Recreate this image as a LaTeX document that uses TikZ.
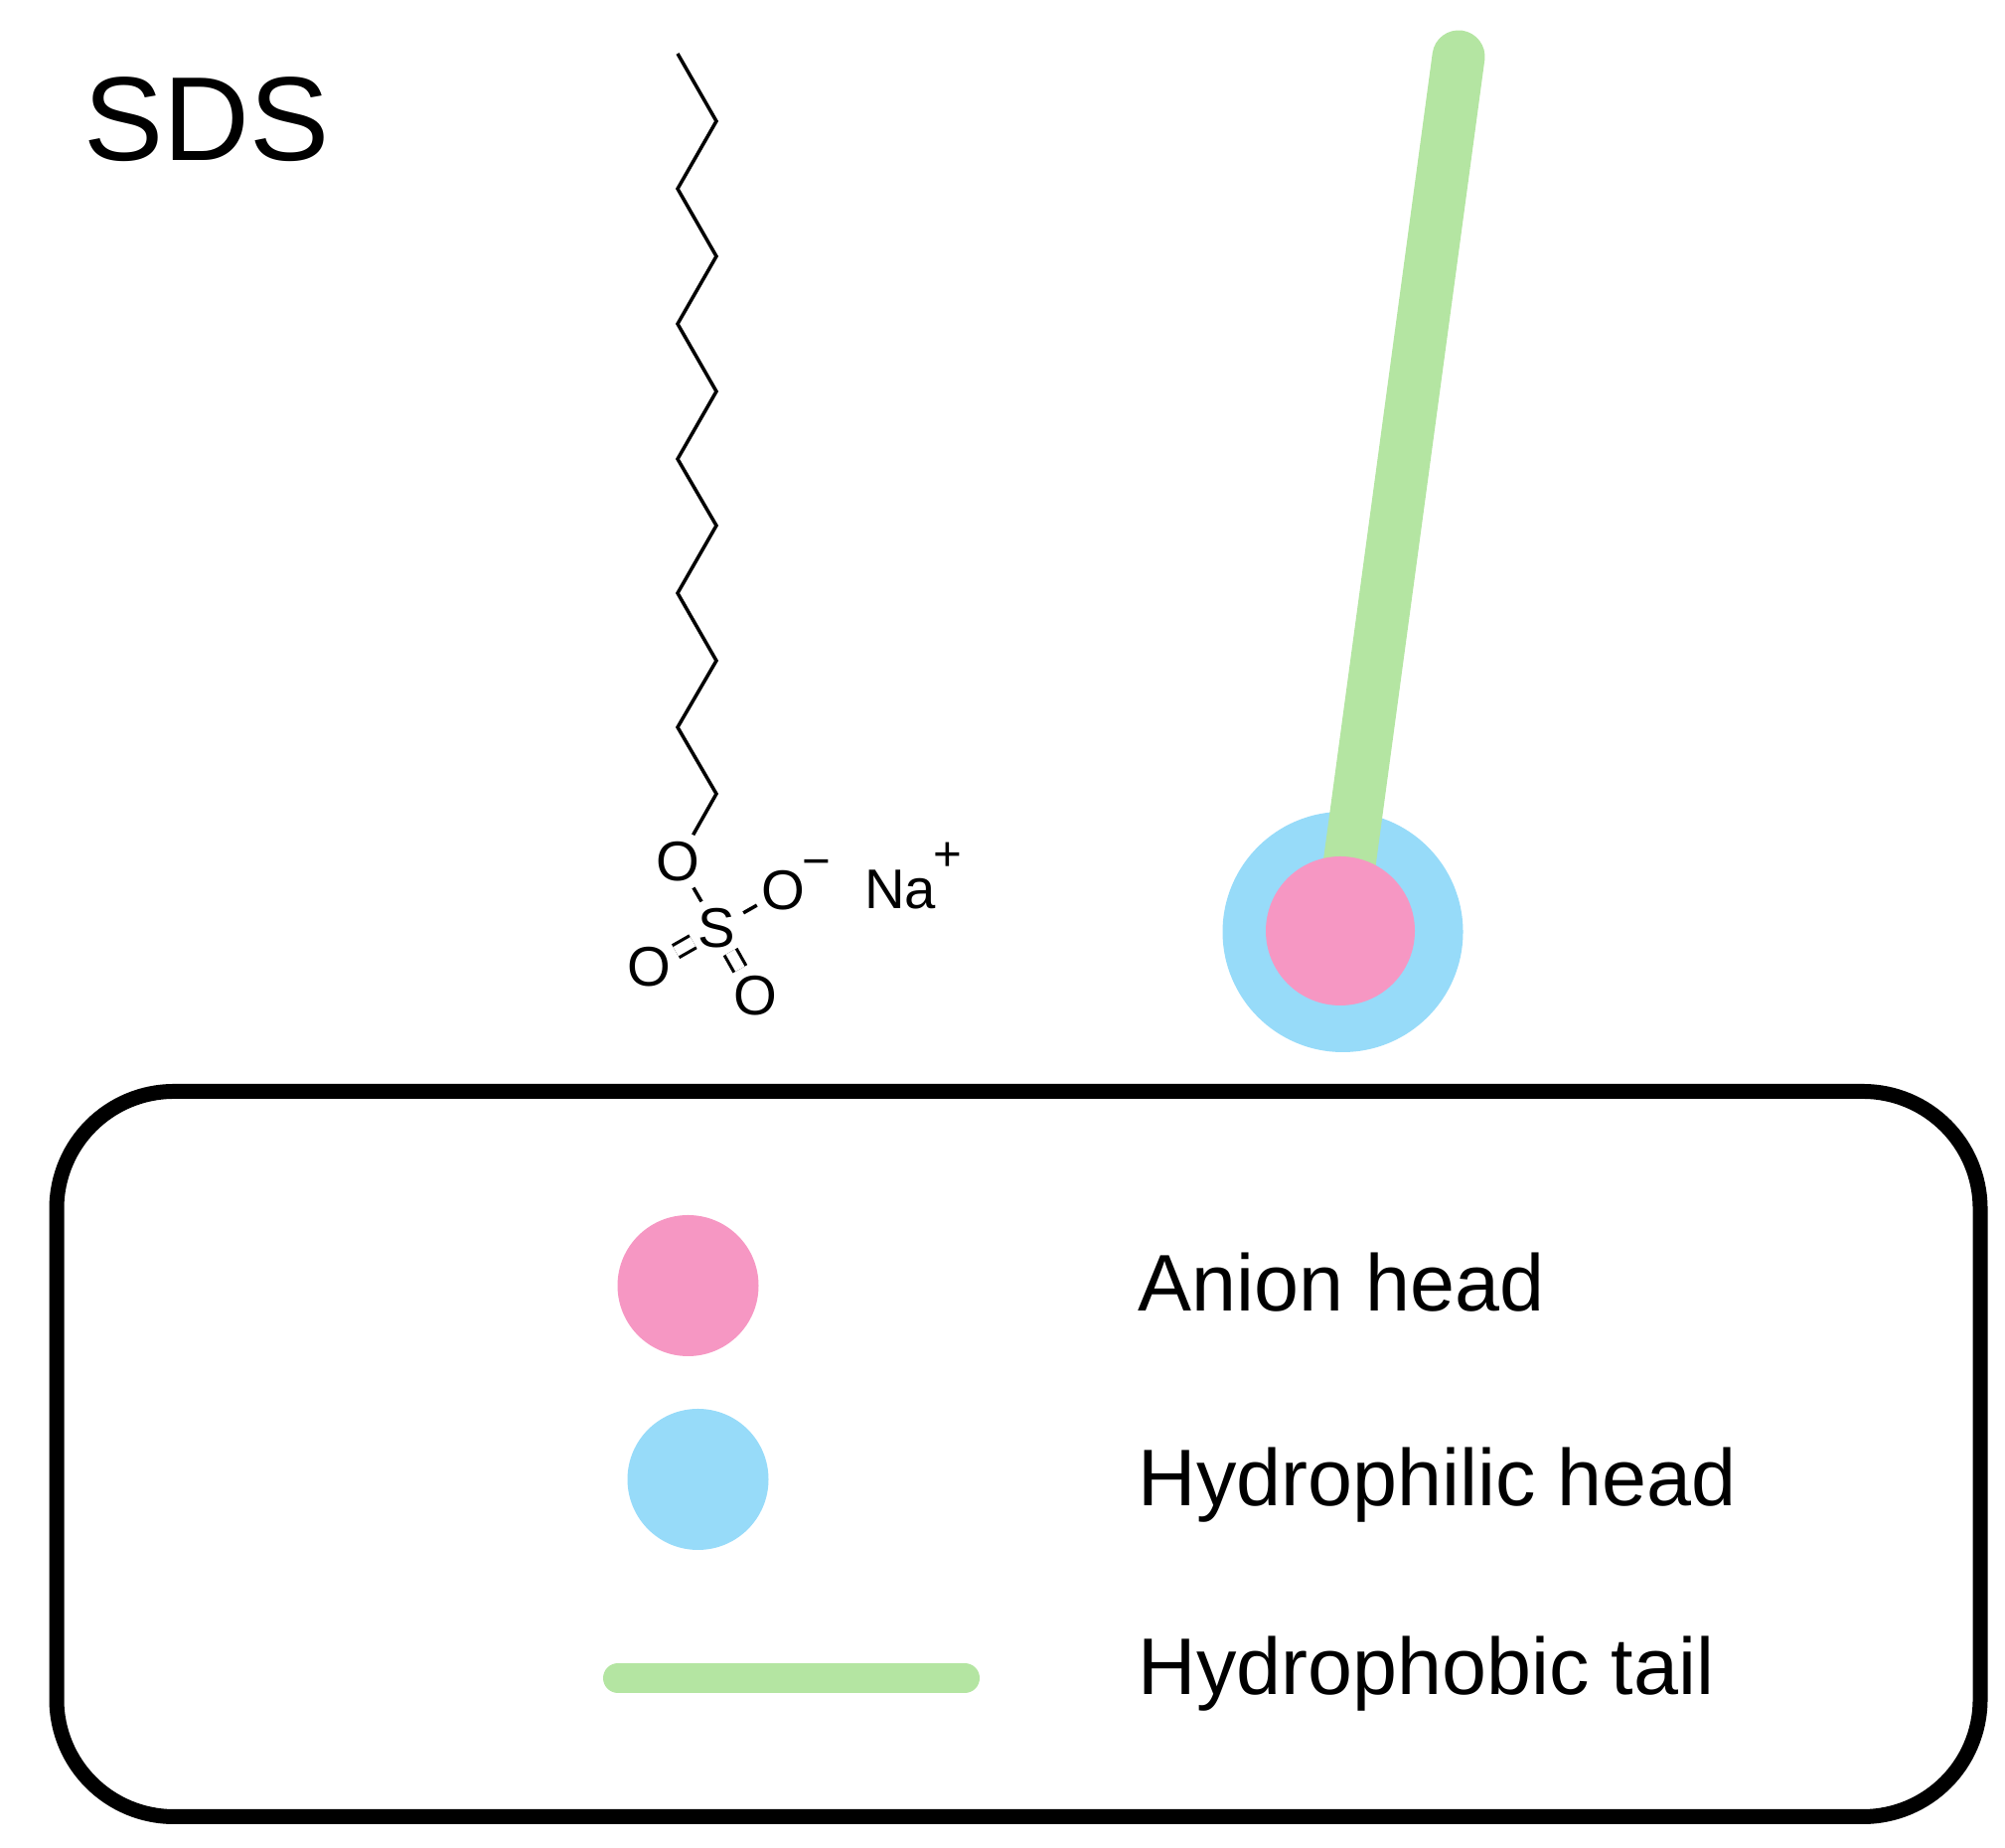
\documentclass[tikz,border=0pt]{standalone}
\usepackage{fontspec}
\setmainfont{Liberation Sans}
\definecolor{anionpink}{HTML}{F697C3}
\definecolor{headblue}{HTML}{97DBF9}
\definecolor{tailgreen}{HTML}{B4E5A2}
\begin{document}
\begin{tikzpicture}[
      disc/.style={circle, inner sep=0pt, minimum size=1.42cm},
      pinkdisc/.style={disc, fill=anionpink},
      bluedisc/.style={disc, fill=headblue},
      tailbar/.style={draw=tailgreen, line cap=round},
      bond/.style={line width=1pt, line join=miter},
      dbond/.style={line width=0.9pt, double, double distance=3pt, shorten <=-0.03cm},
      atom/.style={circle, inner sep=0pt, minimum size=0.6cm, font=\fontsize{16}{18}\selectfont},
      charge/.style={inner sep=0pt, font=\fontsize{14}{16}\selectfont},
      lbl/.style={anchor=base west, inner sep=0pt, font=\fontsize{23}{28}\selectfont},
    ]
    \useasboundingbox (0,0) rectangle (20.18,18.6);

    % Title
    \node[lbl, font=\fontsize{34.2}{40}\selectfont] (title) at (0.84,16.98) {SDS};

    % Carbon chain
    \coordinate (c1) at (6.82,18.06);
    \coordinate (c2) at (7.21,17.38);
    \coordinate (c3) at (6.82,16.70);
    \coordinate (c4) at (7.21,16.02);
    \coordinate (c5) at (6.82,15.34);
    \coordinate (c6) at (7.21,14.66);
    \coordinate (c7) at (6.82,13.98);
    \coordinate (c8) at (7.21,13.31);
    \coordinate (c9) at (6.82,12.63);
    \coordinate (c10) at (7.21,11.95);
    \coordinate (c11) at (6.82,11.28);
    \coordinate (c12) at (7.21,10.61);

    % Sulfate group
    \node[atom] (oa) at (6.825,9.93) {O};
    \node[atom] (s)  at (7.215,9.26) {S};
    \node[atom] (ob) at (7.885,9.64) {O};
    \node[atom] (oc) at (6.535,8.87) {O};
    \node[atom] (od) at (7.60,8.58) {O};
    \node[charge] (minus) at (8.22,9.86) {−};
    \node[atom, minimum size=0pt] (na) at (9.06,9.65) {Na};
    \node[charge] (plus) at (9.54,9.98) {+};

    % Bonds
    \draw[bond] (c1) -- (c2) -- (c3) -- (c4) -- (c5) -- (c6) -- (c7) -- (c8)
      -- (c9) -- (c10) -- (c11) -- (c12) -- (oa);
    \draw[bond] (oa) -- (s);
    \draw[bond] (s) -- (ob);
    \draw[dbond] (s) -- (oc);
    \draw[dbond] (s) -- (od);

    % Surfactant sketch
    \node[bluedisc, minimum size=2.42cm] (shell) at (13.515,9.22) {};
    \coordinate (tailtop) at (14.68,18.03);
    \coordinate (corec) at (13.49,9.23);
    \draw[tailbar, line width=0.53cm] (tailtop) -- (corec);
    \node[pinkdisc, minimum size=1.5cm] (core) at (corec) {};

    % Legend
    \node[draw, line width=0.15cm, rounded corners=1.18cm, minimum width=19.36cm,
      minimum height=7.30cm] (legend) at (10.25,3.965) {};
    \node[pinkdisc] (anion) at (6.925,5.66) {};
    \node[bluedisc] (hydro) at (7.025,3.71) {};
    \coordinate (barl) at (6.22,1.71);
    \coordinate (barr) at (9.71,1.71);
    \draw[tailbar, line width=0.30cm] (barl) -- (barr);
    \node[lbl] (anionlbl) at (11.45,5.40) {Anion head};
    \node[lbl] (hydrolbl) at (11.45,3.44) {Hydrophilic head};
    \node[lbl] (taillbl)  at (11.45,1.54) {Hydrophobic tail};

    \end{tikzpicture}
\end{document}
